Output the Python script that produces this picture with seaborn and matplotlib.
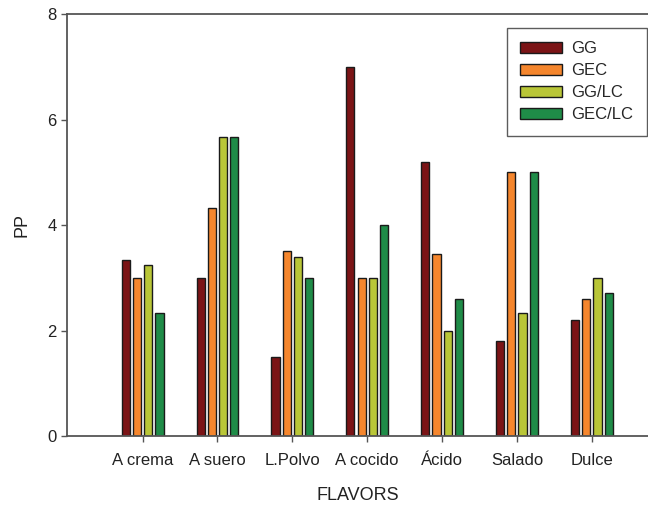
import pandas as pd
import numpy as np
import matplotlib
matplotlib.use("Agg")
import matplotlib.pyplot as plt
import seaborn as sns

flavors = ['A crema', 'A suero', 'L.Polvo', 'A cocido', 'Ácido', 'Salado', 'Dulce']
groups = ['GG', 'GEC', 'GG/LC', 'GEC/LC']

gg = [3.33, 3.0, 1.5, 7.0, 5.2, 1.8, 2.2]
gec = [3.0, 4.33, 3.5, 3.0, 3.45, 5.0, 2.6]
gg_lc = [3.25, 5.67, 3.4, 3.0, 2.0, 2.33, 3.0]
gec_lc = [2.33, 5.67, 3.0, 4.0, 2.6, 5.0, 2.72]

colors = ['#7b1416', '#f5862d', '#b9c637', '#1f8c48']

rows = []
for g, vals in zip(groups, [gg, gec, gg_lc, gec_lc]):
    for f, v in zip(flavors, vals):
        rows.append({'flavor': f, 'group': g, 'pp': v})
df = pd.DataFrame(rows)

sns.set_style('white')
plt.rcParams['font.family'] = ['Liberation Sans', 'DejaVu Sans']

fig = plt.figure(figsize=(6.48, 5.07), dpi=100)
ax = fig.add_axes([0.1034, 0.140, 0.8966, 0.832])

sns.barplot(data=df, x='flavor', y='pp', hue='group', order=flavors,
            hue_order=groups, palette=colors, saturation=1, width=0.6, gap=0.27,
            edgecolor='#1a1a1a', linewidth=1.0, ax=ax, errorbar=None)

ax.set_xlim(-1.01, 6.75)
ax.set_ylim(0, 8)
ax.set_yticks([0, 2, 4, 6, 8])
ax.set_xlabel('FLAVORS', fontsize=13, color='#222222', labelpad=14)
ax.set_ylabel('PP', fontsize=13, color='#222222', labelpad=12)

for side in ['left', 'bottom', 'top']:
    ax.spines[side].set_color('#555555')
    ax.spines[side].set_linewidth(1.3)
ax.spines['right'].set_visible(False)

ax.tick_params(axis='both', direction='out', length=4, width=1, color='#555555',
               labelsize=12, labelcolor='#222222', bottom=True, left=True)
ax.tick_params(axis='x', pad=8)

leg = ax.legend(loc='upper right', bbox_to_anchor=(0.998, 0.967), borderaxespad=0,
                fontsize=12, handlelength=2.5, handleheight=0.7, labelspacing=0.42,
                fancybox=False, frameon=True, borderpad=0.8, handletextpad=0.6)
leg.get_frame().set_edgecolor('#333333')
leg.get_frame().set_linewidth(1.0)

fig.savefig('out.png', dpi=100)
